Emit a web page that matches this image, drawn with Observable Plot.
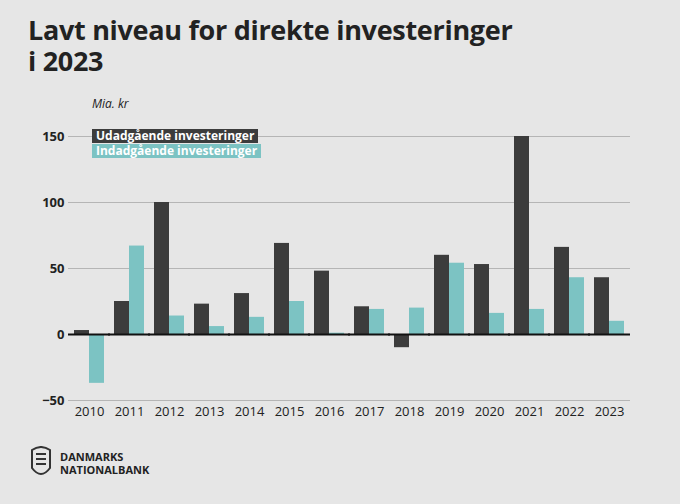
<!DOCTYPE html>
<html><head><meta charset="utf-8">
<script src="https://cdn.jsdelivr.net/npm/d3@7"></script>
<script src="https://cdn.jsdelivr.net/npm/@observablehq/plot@0.6"></script>
<style>
body{margin:0;background:#e6e6e6;font-family:"Open Sans",sans-serif;width:680px;height:504px;overflow:hidden;position:relative}
h1{position:absolute;left:28px;top:14px;margin:0;font-size:27px;line-height:31px;font-weight:700;color:#222;letter-spacing:-0.3px}
#unit{position:absolute;left:92px;top:95px;font-style:italic;font-size:12px;color:#222}
#chart{position:absolute;left:0;top:115px}
.leg{position:absolute;left:92px;font-size:12px;font-weight:700;padding:0 4px;line-height:14px}
#logo{position:absolute;left:30px;top:446px;display:flex;align-items:center;gap:8px;font-size:11px;font-weight:700;line-height:13px;color:#222}
</style></head><body>
<h1>Lavt niveau for direkte investeringer<br>i 2023</h1>
<div id="unit">Mia. kr</div>
<div id="chart"></div>
<div class="leg" style="top:129px;background:#3c3c3c;color:#fff">Udadgående investeringer</div>
<div class="leg" style="top:144px;background:#7cc3c3;color:#fff">Indadgående investeringer</div>
<div id="logo"><svg width="22" height="34" viewBox="0 0 22 34"><path d="M2 4 Q11 -2 20 4 L20 22 Q11 34 2 22 Z" fill="none" stroke="#333" stroke-width="2"/><path d="M6 8h10M6 13h10M6 18h10" stroke="#333" stroke-width="2"/></svg><div>DANMARKS<br>NATIONALBANK</div></div>
<script>
const years=["2010","2011","2012","2013","2014","2015","2016","2017","2018","2019","2020","2021","2022","2023"];
const udad=[3,25,100,23,31,69,48,21,-10,60,53,150,66,43];
const indad=[-37,67,14,6,13,25,1,19,20,54,16,19,43,10];
const series=["Udadgående investeringer","Indadgående investeringer"];
const data=years.flatMap((y,i)=>[{year:y,s:series[0],v:udad[i]},{year:y,s:series[1],v:indad[i]}]);
const chart=Plot.plot({
  width:640,height:310,marginLeft:68,marginRight:10,marginTop:21,marginBottom:25,
  style:{background:"transparent",fontFamily:"Open Sans, sans-serif",fontSize:"13px",color:"#222"},
  y:{domain:[-50,150],ticks:[-50,0,50,100,150],label:null,tickSize:0,tickPadding:10},
  fx:{domain:years,label:null,padding:0.25,tickSize:0,tickPadding:6},
  x:{domain:series,axis:null,padding:0},
  color:{domain:series,range:["#3c3c3c","#7cc3c3"]},
  marks:[
    Plot.ruleY([-50,50,100,150],{stroke:"#b5b5b5",insetLeft:-6,insetRight:-6}),
    Plot.barY(data,{fx:"year",x:"s",y:"v",fill:"s"}),
    Plot.ruleY([0],{stroke:"#111",strokeWidth:2,insetLeft:-6,insetRight:-6})
  ]
});
chart.querySelectorAll("g[aria-label='y-axis tick label'] text").forEach(t=>t.style.fontWeight="700");
document.getElementById("chart").appendChild(chart);
</script>
</body></html>
